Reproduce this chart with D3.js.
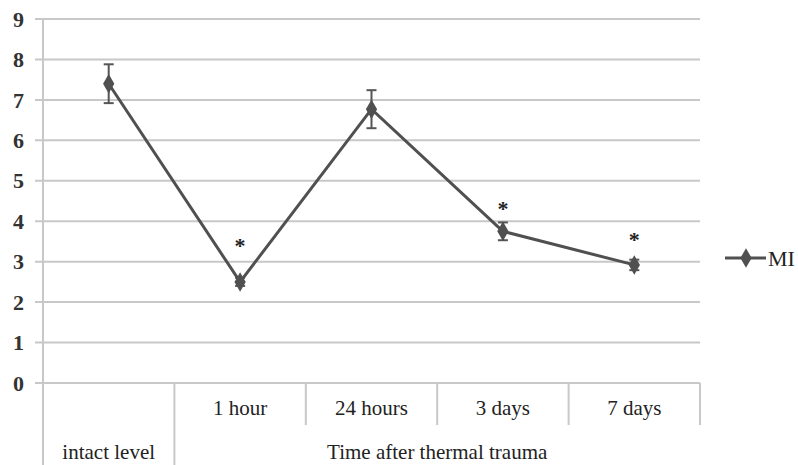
<!DOCTYPE html>
<html>
  <head>
    <script src="https://d3js.org/d3.v7.min.js"></script>
  </head>
  <body style="margin:0;background:#fff;">
    <div id="chart"></div>
    <script>
      // values
      const categories = ['intact level', '1 hour', '24 hours', '3 days', '7 days'];
      const groupLabels = ['intact level', 'Time after thermal trauma'];
      const miValues = [7.4, 2.5, 6.77, 3.75, 2.92];
      const miErrors = [0.48, 0.1, 0.47, 0.22, 0.13];
      // height (in axis units) of the significance asterisks, null = none
      const starLevels = [null, 3.5, null, 4.42, 3.66];
      const yTicks = [0, 1, 2, 3, 4, 5, 6, 7, 8, 9];

      const width = 798;
      const height = 465;
      const margin = {top: 19, right: 98, bottom: 82, left: 43};
      const font = '"Liberation Serif", "Times New Roman", serif';

      const data = categories.map((c, i) => ({cat: c, value: miValues[i], err: miErrors[i], star: starLevels[i]}));

      const svg = d3.create('svg')
        .attr('width', width)
        .attr('height', height)
        .style('font-family', font);

      const x = d3.scaleBand()
        .domain(categories)
        .range([margin.left, width - margin.right]);

      const y = d3.scaleLinear()
        .domain([0, 9])
        .range([height - margin.bottom, margin.top]);

      // gridlines
      svg.append('g')
        .selectAll('line')
        .data(yTicks)
        .join('line')
        .attr('x1', margin.left - 8)
        .attr('x2', width - margin.right)
        .attr('y1', d => y(d))
        .attr('y2', d => y(d))
        .attr('stroke', '#c8c8c8')
        .attr('stroke-width', 2);

      // y axis labels
      svg.append('g')
        .selectAll('text')
        .data(yTicks)
        .join('text')
        .attr('x', 24)
        .attr('y', d => y(d))
        .attr('dy', '0.35em')
        .attr('text-anchor', 'end')
        .attr('font-size', 22)
        .attr('font-weight', 'bold')
        .attr('fill', '#333')
        .text(d => d);

      // y axis line
      svg.append('line')
        .attr('x1', margin.left).attr('x2', margin.left)
        .attr('y1', margin.top).attr('y2', height)
        .attr('stroke', '#c8c8c8').attr('stroke-width', 2);

      // category axis separators
      const y0 = y(0);
      const seps = categories.slice(1).map(c => x(c)).concat([width - margin.right]);
      svg.append('g')
        .selectAll('line')
        .data(seps)
        .join('line')
        .attr('x1', d => d).attr('x2', d => d)
        .attr('y1', y0)
        .attr('y2', (d, i) => i === 0 ? height : y0 + 42)
        .attr('stroke', '#c8c8c8').attr('stroke-width', 2);

      // first row labels
      svg.append('g')
        .selectAll('text')
        .data(categories.slice(1))
        .join('text')
        .attr('x', d => x(d) + x.bandwidth() / 2)
        .attr('y', y0 + 32)
        .attr('text-anchor', 'middle')
        .attr('font-size', 21)
        .attr('fill', '#222')
        .text(d => d);

      // second row labels
      svg.append('g')
        .selectAll('text')
        .data(groupLabels)
        .join('text')
        .attr('x', (d, i) => i === 0 ? x(categories[0]) + x.bandwidth() / 2 : (x(categories[1]) + width - margin.right) / 2)
        .attr('y', height - 6)
        .attr('text-anchor', 'middle')
        .attr('font-size', 21)
        .attr('fill', '#222')
        .text(d => d);

      const cx = d => x(d.cat) + x.bandwidth() / 2;

      // error bars
      const eb = svg.append('g').attr('stroke', '#555').attr('stroke-width', 2);
      eb.selectAll('.v').data(data).join('line')
        .attr('x1', cx).attr('x2', cx)
        .attr('y1', d => y(d.value + d.err)).attr('y2', d => y(d.value - d.err));
      eb.selectAll('.t').data(data).join('line')
        .attr('x1', d => cx(d) - 5).attr('x2', d => cx(d) + 5)
        .attr('y1', d => y(d.value + d.err)).attr('y2', d => y(d.value + d.err));
      eb.selectAll('.b').data(data).join('line')
        .attr('x1', d => cx(d) - 5).attr('x2', d => cx(d) + 5)
        .attr('y1', d => y(d.value - d.err)).attr('y2', d => y(d.value - d.err));

      // line
      svg.append('path')
        .datum(data)
        .attr('fill', 'none')
        .attr('stroke', '#505050')
        .attr('stroke-width', 3)
        .attr('d', d3.line().x(cx).y(d => y(d.value)));

      // markers
      const diamond = d3.symbol().type(d3.symbolDiamond).size(110);
      svg.append('g')
        .selectAll('path')
        .data(data)
        .join('path')
        .attr('transform', d => `translate(${cx(d)},${y(d.value)})`)
        .attr('d', diamond)
        .attr('fill', '#505050');

      // significance stars (glyph centre sits ~12px above baseline)
      svg.append('g')
        .selectAll('text')
        .data(data.filter(d => d.star !== null))
        .join('text')
        .attr('x', cx)
        .attr('y', d => y(d.star) + 12)
        .attr('text-anchor', 'middle')
        .attr('font-size', 22)
        .attr('font-weight', 'bold')
        .attr('fill', '#222')
        .text('*');

      // legend
      const lg = svg.append('g').attr('transform', 'translate(725,258)');
      lg.append('line').attr('x1', 0).attr('x2', 41).attr('stroke', '#505050').attr('stroke-width', 3);
      lg.append('path').attr('transform', 'translate(21,0)').attr('d', diamond).attr('fill', '#505050');
      lg.append('text').attr('x', 43).attr('dy', '0.35em').attr('font-size', 22).attr('fill', '#222').text('MI');

      document.getElementById('chart').appendChild(svg.node());
    </script>
  </body>
</html>
